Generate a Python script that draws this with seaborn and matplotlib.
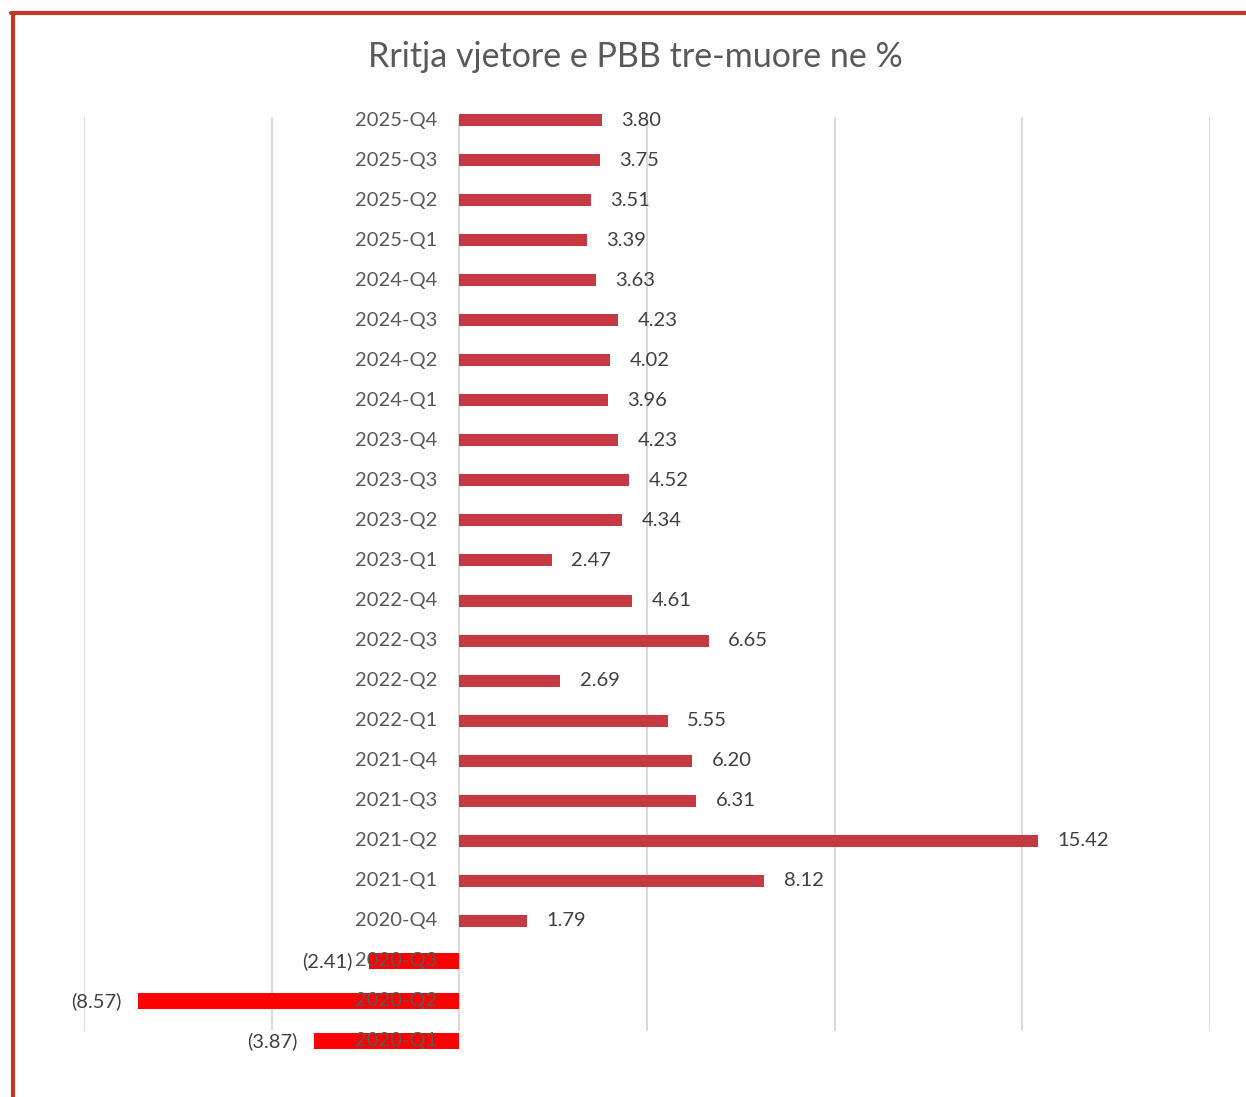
import matplotlib
matplotlib.use("Agg")
import matplotlib.pyplot as plt
from matplotlib.lines import Line2D
import seaborn as sns
import pandas as pd

# Quarterly year-on-year GDP growth, most recent quarter first
quarters = [
    "2025-Q4", "2025-Q3", "2025-Q2", "2025-Q1",
    "2024-Q4", "2024-Q3", "2024-Q2", "2024-Q1",
    "2023-Q4", "2023-Q3", "2023-Q2", "2023-Q1",
    "2022-Q4", "2022-Q3", "2022-Q2", "2022-Q1",
    "2021-Q4", "2021-Q3", "2021-Q2", "2021-Q1",
    "2020-Q4", "2020-Q3", "2020-Q2", "2020-Q1",
]
growth = [
    3.80, 3.75, 3.51, 3.39,
    3.63, 4.23, 4.02, 3.96,
    4.23, 4.52, 4.34, 2.47,
    4.61, 6.65, 2.69, 5.55,
    6.20, 6.31, 15.42, 8.12,
    1.79, -2.41, -8.57, -3.87,
]
x_ticks = [-10, -5, 0, 5, 10, 15, 20]
title = "Rritja vjetore e PBB tre-muore ne %"

df = pd.DataFrame({"quarter": quarters, "growth": growth})
df["sign"] = ["neg" if v < 0 else "pos" for v in growth]

sns.set_theme(style="white")
plt.rcParams["font.family"] = ["Lato", "DejaVu Sans"]

W, H = 1246, 1097
fig = plt.figure(figsize=(W / 100, H / 100), dpi=100)
fig.patch.set_facecolor("white")
ax = fig.add_axes([84 / W, 1 - 1061 / H, (1210 - 84) / W, (1061 - 100) / H])

pos_color = "#C53A42"
neg_color = "#FF0000"

sns.barplot(
    data=df, y="quarter", x="growth", hue="sign", order=quarters,
    palette={"pos": pos_color, "neg": neg_color}, dodge=False,
    width=0.3, saturation=1, legend=False, ax=ax, orient="h", zorder=3,
)

# negative bars are drawn a little heavier
for patch in ax.patches:
    if patch.get_width() < 0:
        cy = patch.get_y() + patch.get_height() / 2
        patch.set_height(0.4)
        patch.set_y(cy - 0.2)
    patch.set_edgecolor("none")

ax.set_xlim(-10, 20)
ax.set_ylim(len(quarters) - 0.5, -0.5)
ax.grid(False)
for xt in x_ticks:
    ax.axvline(xt, ymin=0.032, ymax=0.981, color="#D9D9D9", linewidth=1.4, zorder=0)
ax.set_xticks([])
ax.set_yticks([])
ax.set_xlabel("")
ax.set_ylabel("")
ax.tick_params(length=0)
for s in ax.spines.values():
    s.set_visible(False)

# category labels sit just left of the zero line
for i, (q, v) in enumerate(zip(quarters, growth)):
    ax.annotate(q, xy=(0, i), xytext=(-16, 0), textcoords="offset points",
                ha="right", va="center", fontsize=14.5, color="#595959", zorder=4)
    if v >= 0:
        ax.annotate(f"{v:.2f}", xy=(v, i), xytext=(14, 0), textcoords="offset points",
                    ha="left", va="center", fontsize=14.5, color="#404040", zorder=4)
    else:
        ax.annotate(f"({abs(v):.2f})", xy=(v, i), xytext=(-12, 0), textcoords="offset points",
                    ha="right", va="center", fontsize=14.5, color="#404040", zorder=4)

fig.text(635 / W, 1 - 57 / H, title, ha="center", va="center",
         fontsize=24.5, color="#595959")

# frame on the left and top edges
fig.add_artist(Line2D([12.5 / W, 12.5 / W], [0, 1 - 12.5 / H],
                      transform=fig.transFigure, color="#C0392B", linewidth=3))
fig.add_artist(Line2D([11 / W, 1], [1 - 12.5 / H, 1 - 12.5 / H],
                      transform=fig.transFigure, color="#C0392B", linewidth=3))

fig.savefig("out.png", dpi=100, facecolor="white")
